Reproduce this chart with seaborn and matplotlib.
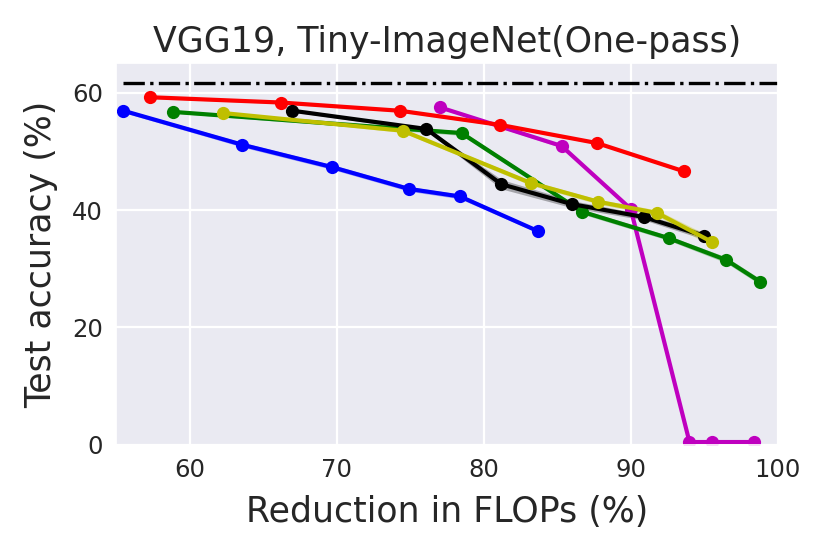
import numpy as np
import pandas as pd
import matplotlib
matplotlib.use('Agg')
import matplotlib.pyplot as plt
import seaborn as sns

# Dados (média e desvio aproximado das execuções)
flops_blue = [55.5, 63.6, 69.7, 74.9, 78.4, 83.7]
acc_blue = [56.9, 51.1, 47.3, 43.6, 42.3, 36.4]
sd_blue = [0.3, 0.4, 0.4, 0.4, 0.4, 0.3]

flops_magenta = [77.0, 85.3, 90.0, 94.0, 95.5, 98.4]
acc_magenta = [57.5, 50.9, 40.2, 0.5, 0.5, 0.5]
sd_magenta = [0.2, 0.3, 0.3, 0.2, 0.2, 0.2]

flops_red = [57.3, 66.2, 74.3, 81.1, 87.7, 93.6]
acc_red = [59.2, 58.3, 56.9, 54.5, 51.4, 46.6]
sd_red = [0.2, 0.2, 0.2, 0.2, 0.2, 0.2]

flops_green = [58.9, 78.5, 86.7, 92.6, 96.5, 98.8]
acc_green = [56.7, 53.1, 39.7, 35.2, 31.5, 27.8]
sd_green = [0.2, 0.4, 0.4, 0.4, 0.5, 0.5]

flops_black = [67.0, 76.1, 81.2, 86.0, 90.9, 95.0]
acc_black = [56.9, 53.8, 44.4, 41.0, 38.8, 35.6]
sd_black = [0.2, 0.3, 0.8, 0.6, 0.5, 0.6]

flops_yellow = [62.3, 74.5, 83.2, 87.8, 91.8, 95.5]
acc_yellow = [56.5, 53.5, 44.6, 41.4, 39.5, 34.6]
sd_yellow = [0.2, 0.3, 0.4, 0.4, 0.5, 0.8]

baseline_acc = 61.6
baseline_span = [55.5, 100]

series = [
    (flops_blue, acc_blue, sd_blue, '#0000ff'),
    (flops_magenta, acc_magenta, sd_magenta, '#bf00bf'),
    (flops_red, acc_red, sd_red, '#ff0000'),
    (flops_green, acc_green, sd_green, '#008000'),
    (flops_black, acc_black, sd_black, '#000000'),
    (flops_yellow, acc_yellow, sd_yellow, '#bfbf00'),
]

sns.set_theme(style='darkgrid', color_codes=False,
              rc={'grid.linewidth': 1.6})
plt.rcParams['font.family'] = ['DejaVu Sans']

fig = plt.figure(figsize=(8.3, 5.54), dpi=100)
ax = fig.add_axes([0.1398, 0.1968, 0.7972, 0.6892])

for x, y, sd, cor in series:
    x = np.array(x)
    y = np.array(y)
    sd = np.array(sd)
    ax.fill_between(x, y - sd, y + sd, color=cor, alpha=0.3, linewidth=0)
    sns.lineplot(x=x, y=y, sort=False, color=cor, marker='o', markersize=9.5,
                 markeredgewidth=0, linewidth=3.0, ax=ax)

ax.plot(baseline_span, [baseline_acc, baseline_acc], color='k', linestyle='-.',
        linewidth=2.4)

ax.set_xlim(55, 100)
ax.set_ylim(0, 65)
ax.set_xticks([60, 70, 80, 90, 100])
ax.set_yticks([0, 20, 40, 60])
ax.tick_params(labelsize=17.5)
ax.set_xlabel('Reduction in FLOPs (%)', fontsize=25, labelpad=9)
ax.set_ylabel('Test accuracy (%)', fontsize=25, labelpad=10)
ax.set_title('VGG19, Tiny-ImageNet(One-pass)', fontsize=25, pad=8)

fig.savefig('out.png', dpi=100)
